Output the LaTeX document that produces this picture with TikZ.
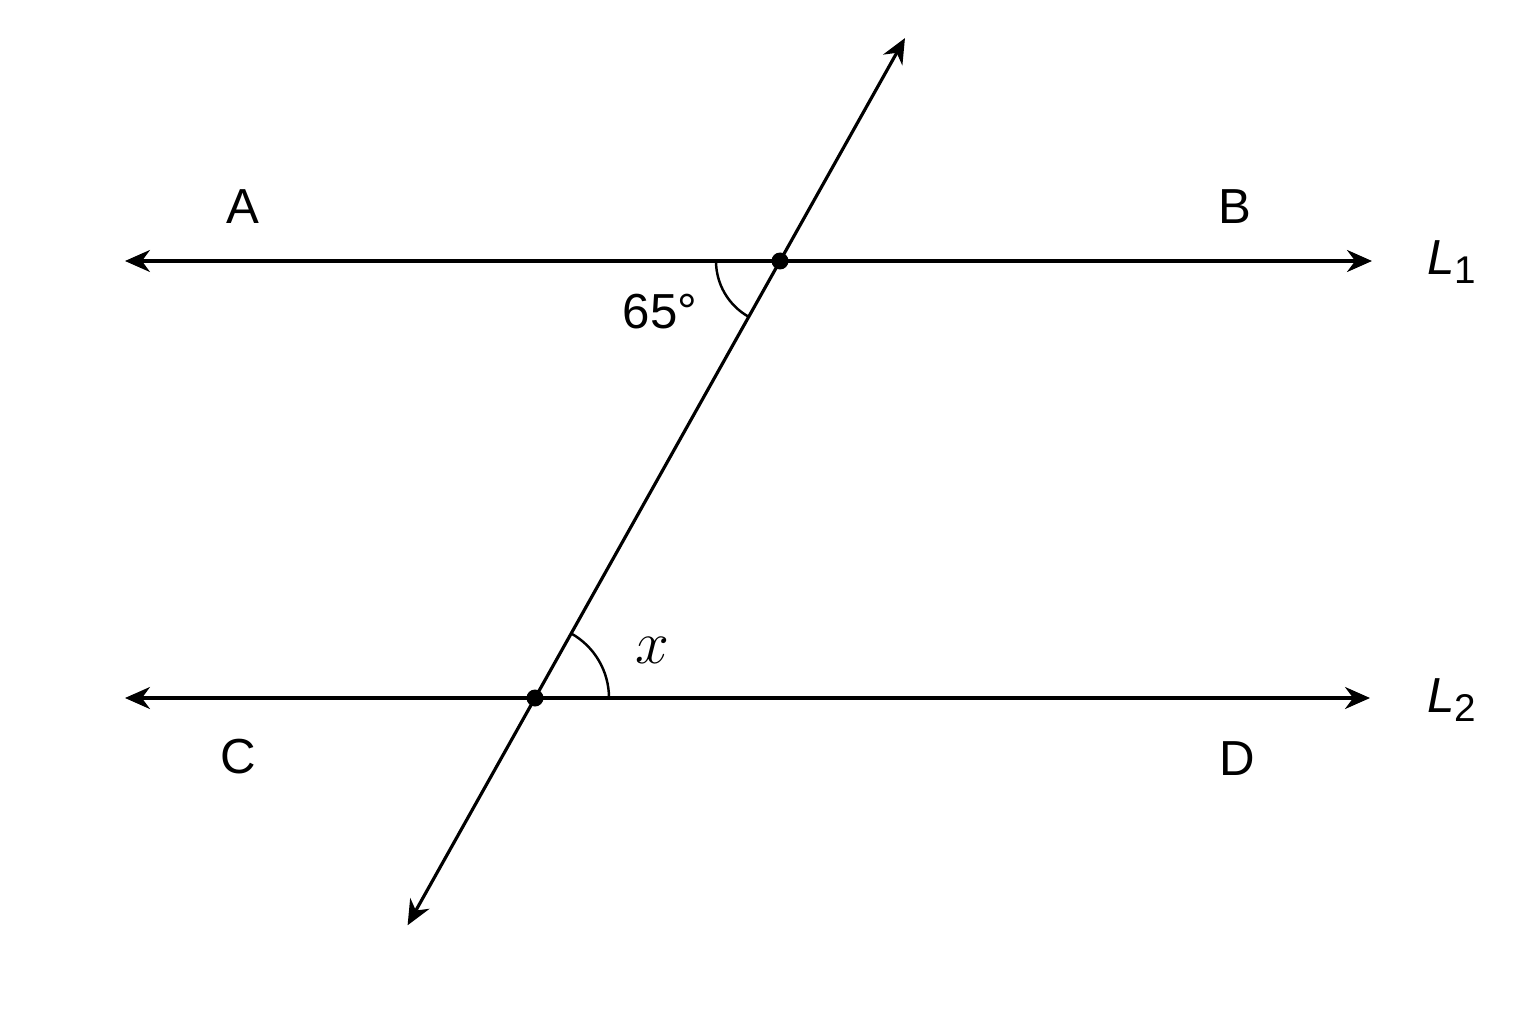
\documentclass[tikz,border=0pt]{standalone}
\usepackage{fontspec}
\setmainfont{Liberation Sans}
\usetikzlibrary{arrows.meta,calc}
\newcommand{\lineName}[1]{\textit{L}\raisebox{-0.35ex}{\fontsize{11}{12}\selectfont #1}}
\begin{document}
\begin{tikzpicture}[line width=0.9pt,
ray/.style={{Stealth[length=0.25cm,width=0.22cm]}-{Stealth[length=0.25cm,width=0.22cm]}},
lbl/.style={font=\fontsize{14}{16}\selectfont},
dot/.style={circle, fill, inner sep=0pt, minimum size=0.17cm}
]
\useasboundingbox (0,0) rectangle (15.36,10.24);

% intersection points
\node[dot] (P1) at (7.80,7.63) {};
\node[dot] (P2) at (5.35,3.26) {};

% line ends
\coordinate (L1w) at (1.25,7.63);
\coordinate (L1e) at (13.72,7.63);
\coordinate (L2w) at (1.25,3.26);
\coordinate (L2e) at (13.70,3.26);
\coordinate (Ttop) at ($(P2)!1.51!(P1)$);
\coordinate (Tbot) at ($(P1)!1.52!(P2)$);

\draw[ray] (L1w) -- (L1e);
\draw[ray] (L2w) -- (L2e);
\draw[ray] (Tbot) -- (Ttop);

% angle marks
\draw[line width=0.7pt] ([shift={(180:0.64)}]P1.center) arc[start angle=180, end angle=240.7, radius=0.64];
\draw[line width=0.7pt] ([shift={(0:0.74)}]P2.center) arc[start angle=0, end angle=60.7, radius=0.74];

% labels
\node[lbl] (A) at (2.43,8.17) {A};
\node[lbl] (B) at (12.35,8.17) {B};
\node[lbl] (C) at (2.38,2.67) {C};
\node[lbl] (D) at (12.37,2.65) {D};
\node[lbl] (nL1) at (14.52,7.62) {\lineName{1}};
\node[lbl] (nL2) at (14.52,3.24) {\lineName{2}};
\node[lbl] (ang65) at (6.60,7.12) {65°};
\node[font=\fontsize{17}{20}\selectfont] (angx) at (6.52,3.74) {$x$};

\end{tikzpicture}
\end{document}
